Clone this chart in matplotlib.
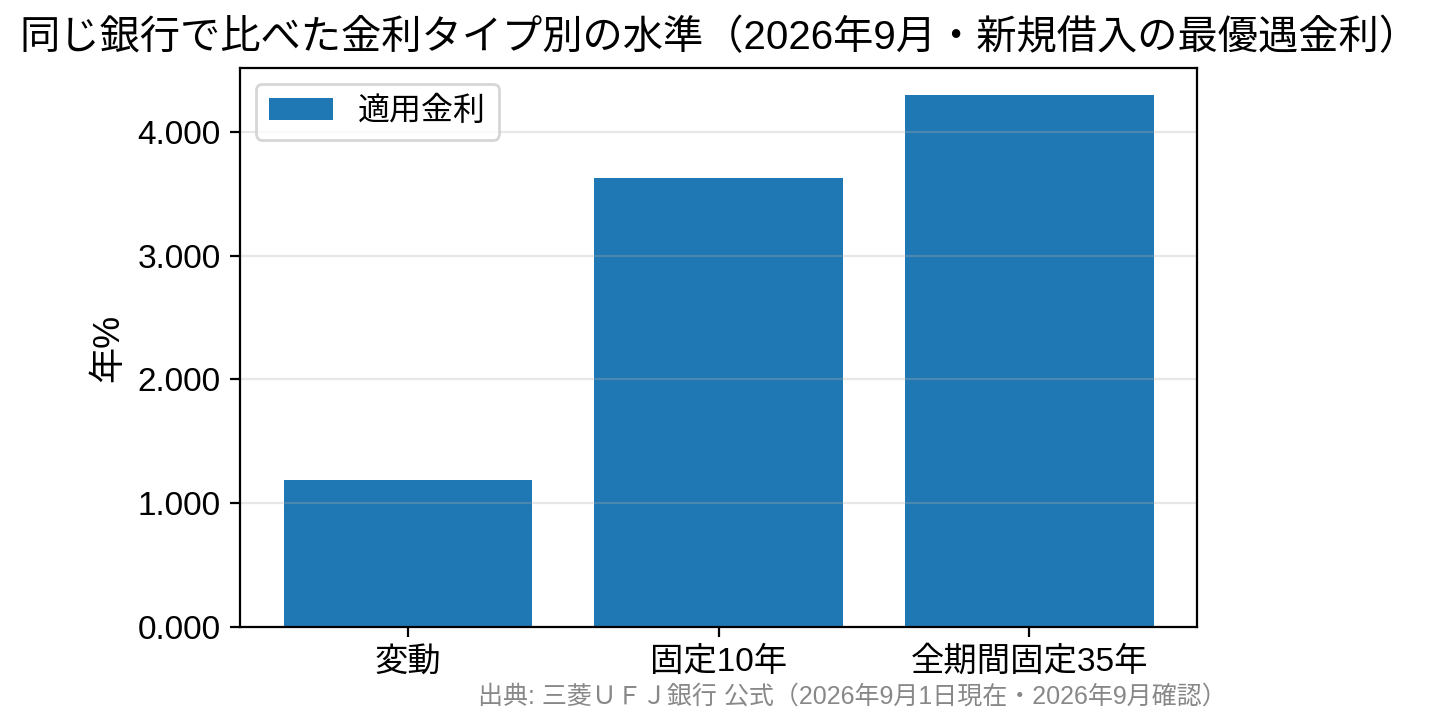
import matplotlib.pyplot as plt

plt.rcParams['font.family'] = ['Liberation Sans', 'Noto Sans CJK JP', 'DejaVu Sans']

# 金利タイプ別の適用金利（年%）
categories = ['変動', '固定10年', '全期間固定35年']
rates = [1.19, 3.63, 4.30]

fig = plt.figure(figsize=(7.19, 3.625), dpi=200)
ax = fig.add_axes([240/1438, 1-627/725, (1197-240)/1438, (627-68)/725])

ax.bar(categories, rates, color='#1f77b4', label='適用金利')
ax.grid(axis='y', alpha=0.3)
ax.yaxis.set_major_formatter(plt.FuncFormatter(lambda v, p: f'{v:.3f}'))
ax.set_ylabel('年%', fontsize=13)
ax.tick_params(labelsize=12)
ax.legend(loc='upper left', fontsize=11.5)

fig.text(0.5, 1-38/725, '同じ銀行で比べた金利タイプ別の水準（2026年9月・新規借入の最優遇金利）',
         ha='center', va='center', fontsize=14.5)
fig.text(1227/1438, 1-697/725, '出典: 三菱ＵＦＪ銀行 公式（2026年9月1日現在・2026年9月確認）',
         ha='right', va='center', fontsize=9, color='#888888')

fig.savefig('out.png', dpi=200)
